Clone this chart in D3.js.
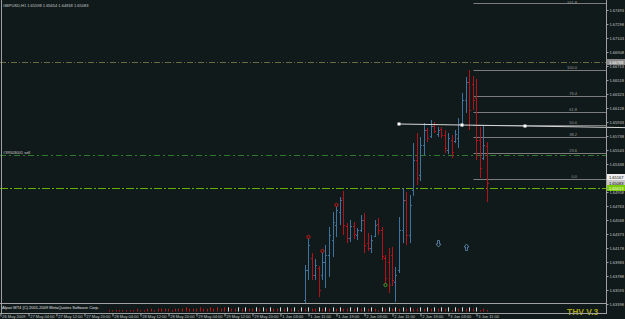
<!DOCTYPE html>
<html>
<head>
<meta charset="utf-8">
<script src="https://cdn.jsdelivr.net/npm/d3@7"></script>
<style>
  html, body { margin: 0; padding: 0; background: #101a1a; overflow: hidden; }
  svg { display: block; }
</style>
</head>
<body>
<script>
// GBPUSD H1 – MT4 screenshot, 1-3 Jun 2009

const symbol = "GBPUSD,H1";

// bar index 0 = 1 Jun 03:00, one bar per hour
const firstBar = 7; // 1 Jun 10:00
const opens  = [1.63453,1.63871,1.64038,1.63802,1.63899,1.63802,1.63983,1.64080,1.64289,1.64498,
                1.64679,1.64874,1.64484,1.64317,1.64484,1.64359,1.64428,1.64568,1.64247,1.64178,
                1.64345,1.64512,1.64428,1.64038,1.63983,1.64080,1.63704,1.63871,1.64428,1.64846,
                1.64359,1.64986,1.65403,1.65195,1.65612,1.65821,1.65738,1.65877,1.65766,1.65835,
                1.65752,1.65543,1.65682,1.65668,1.65710,1.65905,1.66239,1.66490,1.66462,1.66267,
                1.65682,1.65431,1.65598];
const highs  = [1.63941,1.64331,1.64108,1.64025,1.63927,1.64136,1.64220,1.64470,1.64679,1.64777,
                1.64888,1.64972,1.64526,1.64568,1.64540,1.64456,1.64637,1.64665,1.64387,1.64359,
                1.64568,1.64596,1.64470,1.64080,1.64178,1.64192,1.63913,1.64610,1.65013,1.64958,
                1.64916,1.65640,1.65780,1.65724,1.65919,1.65849,1.65961,1.65933,1.65863,1.65863,
                1.65821,1.65780,1.65752,1.65821,1.65988,1.66337,1.66560,1.66657,1.66573,1.66532,
                1.65863,1.65891,1.65654];
const lows   = [1.63314,1.63732,1.63732,1.63732,1.63495,1.63732,1.63621,1.63774,1.64052,1.64331,
                1.64498,1.64359,1.64247,1.64261,1.64303,1.64289,1.64401,1.64108,1.64136,1.64108,
                1.64331,1.64359,1.64011,1.63662,1.63551,1.63648,1.63426,1.63830,1.64247,1.64220,
                1.64247,1.64902,1.65055,1.65111,1.65473,1.65654,1.65710,1.65780,1.65724,1.65710,
                1.65501,1.65487,1.65431,1.65640,1.65571,1.65863,1.66058,1.65821,1.66100,1.65403,
                1.65153,1.65403,1.64818];
const closes = [1.63871,1.64220,1.63802,1.63941,1.63593,1.63983,1.64080,1.64359,1.64540,1.64707,
                1.64846,1.64498,1.64317,1.64484,1.64373,1.64428,1.64568,1.64220,1.64178,1.64289,
                1.64498,1.64428,1.64066,1.63760,1.63662,1.63732,1.63802,1.64428,1.64846,1.64359,
                1.64777,1.65403,1.65153,1.65612,1.65821,1.65710,1.65877,1.65807,1.65821,1.65752,
                1.65571,1.65710,1.65515,1.65766,1.65905,1.66239,1.66490,1.66100,1.66239,1.65682,
                1.65292,1.65612,1.65083];

// price scale labels
const priceTicks = [1.67493,1.67298,1.67103,1.66908,1.66713,1.66518,1.66323,1.66128,1.65933,1.65738,
                    1.65543,1.65348,1.65153,1.64958,1.64763,1.64568,1.64373,1.64178,1.63983,1.63788,
                    1.63593,1.63398];

// time scale labels
const timeLabels = ["26 May 2009","27 May 04:00","27 May 12:00","27 May 20:00","28 May 04:00",
                    "28 May 12:00","28 May 20:00","29 May 04:00","29 May 12:00","29 May 20:00",
                    "1 Jun 03:00","1 Jun 11:00","1 Jun 19:00","2 Jun 03:00","2 Jun 11:00",
                    "2 Jun 19:00","3 Jun 03:00","3 Jun 11:00"];
const timeLabelBars = [-80,-72,-64,-56,-48,-40,-32,-24,-16,-8,0,8,16,24,32,40,48,56];

// objects on chart
const fibLevels = [0, 23.6, 38.2, 50.0, 61.8, 76.4, 100.0, 161.8];
const fibHigh = 1.66657, fibLow = 1.65139, fibStartBar = 55;
const trendBars = [34, 70];
const trendPrices = [1.65905, 1.65877];
const hLineOlive = 1.66768;
const sellOrderPrice = 1.65473;
const sellOrderLabel = "#39503001 sell";
const hLineLime = 1.65013;
const whiteBoxPrice = 1.65167;
const markBars   = [8, 12, 16, 30];
const markPrices = [1.64331, 1.64136, 1.64777, 1.63662];
const markTypes  = ["sell", "sell", "sell", "close"];
const arrowBars   = [45, 53];
const arrowPrices = [1.64233, 1.64192];
const arrowDirs   = ["down", "up"];

// THV sub-window histogram
const thvStart = -49;
const thvValues = [-1,-1,-1,-1,-1,-1,-1,-1,-2,-1,-1,-2,-2,-1,-2,-2,-2,-2,-1,-2,-2,-2,-3,-2,-2,-2,-3,-2,-2,-3,-2,-3,-2,-3,
                   3,-2,-2,3,-2,3,-2,-2,3,-2, 3,-2,3,-2,-2,3,-2,3,-2,3, -1,3,-2,3,-2,-2,3,-2,3,-2,
                   3,-2,3,-2,-2,3,-2,3,-2,3, -2,3,-2,-1,3,-2,3,-2,3,-2, 3,-2,3,-2,-2,3,-2,3,-2,3,
                   -2,3,-2,3,-1,3,-2,3,-2,3, -2,3,-1,-2,-1];
const thvTitle = "THV V.3";
const copyright = "Alpari MT4 (C) 2001-2009 MetaQuotes Software Corp.";

/* layout */
const width = 625, height = 319;
const plotRight = 606, mainBottom = 303, subBottom = 313;
const font = "'Liberation Sans', Arial, sans-serif";
const sc = 0.5; // tiny MT4 text: draw at 8px and scale down to 4px
const upColor = "#41739f", downColor = "#b3121a";

const svg = d3.select("body").append("svg")
  .attr("width", width)
  .attr("height", height)
  .style("background", "#101a1a");

// small text helper (avoids browser minimum font size)
function tiny(parent, tx, ty, txt, color, anchor) {
  return parent.append("text")
    .attr("transform", `translate(${tx},${ty}) scale(${sc})`)
    .attr("text-anchor", anchor || "start")
    .attr("fill", color).attr("font-family", font).attr("font-size", 8)
    .text(txt);
}

const x = d3.scaleLinear().domain([-80, 99]).range([0, 626.5]);
const y = d3.scaleLinear()
  .domain([priceTicks[priceTicks.length - 1], priceTicks[0]])
  .range([304, 10]);
const px = i => Math.round(x(i)) + 0.5;

svg.append("clipPath").attr("id", "main")
  .append("rect").attr("x", 0).attr("y", 0).attr("width", plotRight).attr("height", mainBottom);
svg.append("clipPath").attr("id", "sub")
  .append("rect").attr("x", 0).attr("y", mainBottom + 1).attr("width", plotRight).attr("height", subBottom - mainBottom - 1);

const main = svg.append("g").attr("clip-path", "url(#main)");

// full-width horizontal lines
main.append("line")
  .attr("x1", 0).attr("x2", plotRight)
  .attr("y1", Math.round(y(hLineOlive)) + 0.5).attr("y2", Math.round(y(hLineOlive)) + 0.5)
  .attr("stroke", "#6a6a44").attr("stroke-dasharray", "6,2,1,2");
main.append("line")
  .attr("x1", 0).attr("x2", plotRight)
  .attr("y1", Math.round(y(sellOrderPrice)) + 0.5).attr("y2", Math.round(y(sellOrderPrice)) + 0.5)
  .attr("stroke", "#2e7a2e").attr("stroke-dasharray", "6,3,2,3");
tiny(main, 3, y(sellOrderPrice) - 1.5, sellOrderLabel, "#d0d0d0");
main.append("line")
  .attr("x1", 0).attr("x2", plotRight)
  .attr("y1", Math.round(y(hLineLime)) + 0.5).attr("y2", Math.round(y(hLineLime)) + 0.5)
  .attr("stroke", "#66b000").attr("stroke-dasharray", "8,2,2,2");

// fibonacci
const fib = main.append("g");
fibLevels.forEach(lv => {
  const p = fibLow + (fibHigh - fibLow) * lv / 100;
  const yy = Math.round(y(p)) + 0.5;
  fib.append("line")
    .attr("x1", px(fibStartBar)).attr("x2", plotRight)
    .attr("y1", yy).attr("y2", yy)
    .attr("stroke", "#7c7c7c");
  tiny(fib, 577, Math.max(yy - 1.2, 3.5), lv.toFixed(1), "#9a9a9a", "end");
});

// bars
main.append("g").selectAll("path")
  .data(opens.map((o, k) => ({ i: firstBar + k, o, h: highs[k], l: lows[k], c: closes[k] })))
  .join("path")
  .attr("d", d => {
    const xx = px(d.i);
    return `M${xx},${y(d.h)}V${y(d.l)}M${xx - 1.5},${Math.round(y(d.o)) + 0.5}H${xx}` +
           `M${xx},${Math.round(y(d.c)) + 0.5}H${xx + 1.5}`;
  })
  .attr("fill", "none")
  .attr("stroke", d => d.c >= d.o ? upColor : downColor)
  .attr("stroke-width", 1);

// order markers
main.append("g").selectAll("circle")
  .data(markBars.map((b, k) => ({ b, p: markPrices[k], t: markTypes[k] })))
  .join("circle")
  .attr("cx", d => px(d.b)).attr("cy", d => y(d.p)).attr("r", 1.6)
  .attr("fill", "#2a0c0c")
  .attr("stroke", d => d.t === "close" ? "#3aa02a" : "#c02020")
  .attr("stroke-width", 1);

// arrows
main.append("g").selectAll("path")
  .data(arrowBars.map((b, k) => ({ b, p: arrowPrices[k], d: arrowDirs[k] })))
  .join("path")
  .attr("transform", d => `translate(${px(d.b)},${y(d.p)})${d.d === "up" ? " scale(1,-1)" : ""}`)
  .attr("d", "M-1,-3.5H1V0H2.5L0,3L-2.5,0H-1Z")
  .attr("fill", "none").attr("stroke", "#5f8db5").attr("stroke-width", 0.8);

// trend line (ray)
const tSlope = (trendPrices[1] - trendPrices[0]) / (trendBars[1] - trendBars[0]);
const tEnd = x.invert(width);
svg.append("line")
  .attr("x1", x(trendBars[0])).attr("y1", y(trendPrices[0]))
  .attr("x2", width).attr("y2", y(trendPrices[0] + tSlope * (tEnd - trendBars[0])))
  .attr("stroke", "#d8d8d8").attr("stroke-width", 1);
const tMid = (trendBars[0] + trendBars[1]) / 2;
svg.append("g").selectAll("rect")
  .data([trendBars[0], tMid, trendBars[1]])
  .join("rect")
  .attr("x", d => x(d) - 1.5)
  .attr("y", d => y(trendPrices[0] + tSlope * (d - trendBars[0])) - 1.5)
  .attr("width", 3).attr("height", 3)
  .attr("fill", "#ffffff");

// sub-window
const sub = svg.append("g").attr("clip-path", "url(#sub)");
tiny(sub, 2, 309, copyright, "#e0e0e0");
sub.append("g").selectAll("line")
  .data(thvValues.map((v, k) => ({ i: thvStart + k, v })))
  .join("line")
  .attr("x1", d => px(d.i)).attr("x2", d => px(d.i))
  .attr("y1", 311.5).attr("y2", d => 311.5 - Math.abs(d.v) * 1.4)
  .attr("stroke", d => d.v > 0 ? "#d8d8d8" : "#c01818");
svg.append("text")
  .attr("x", 567).attr("y", 314.5)
  .attr("fill", "#a8a214").attr("font-family", font).attr("font-size", 8.5)
  .attr("font-weight", "bold")
  .text(thvTitle);

// frame
const frame = svg.append("g").attr("stroke", "#a0a0a0").attr("stroke-width", 1);
frame.append("line").attr("x1", 1.5).attr("x2", 1.5).attr("y1", 0).attr("y2", subBottom);
frame.append("line").attr("x1", plotRight + 0.5).attr("x2", plotRight + 0.5).attr("y1", 0).attr("y2", subBottom + 1);
frame.append("line").attr("x1", 0).attr("x2", plotRight).attr("y1", mainBottom + 0.5).attr("y2", mainBottom + 0.5);
frame.append("line").attr("x1", 0).attr("x2", plotRight).attr("y1", subBottom + 0.5).attr("y2", subBottom + 0.5);

// price axis
const yAxis = svg.append("g")
  .attr("transform", `translate(${plotRight + 0.5},0)`)
  .call(d3.axisRight(y).tickValues(priceTicks).tickFormat(d3.format(".5f")).tickSize(2));
yAxis.select(".domain").remove();
yAxis.selectAll("line").attr("stroke", "#a0a0a0");
yAxis.selectAll("text")
  .attr("x", null).attr("dy", null)
  .attr("transform", `translate(3,1.5) scale(${sc})`)
  .attr("fill", "#c4c4c4").attr("font-family", font).attr("font-size", 8);

// price boxes on the axis
const boxes = [
  { p: hLineOlive, fill: "#8a8a8a", text: "#ffffff" },
  { p: whiteBoxPrice, fill: "#f0f0f0", text: "#000000" },
  { p: closes[closes.length - 1], fill: "#c8c8c8", text: "#000000" },
  { p: hLineLime, fill: "#7acc00", text: "#ffffff" }
];
boxes.forEach(b => {
  const yy = Math.round(y(b.p));
  svg.append("rect").attr("x", plotRight + 1).attr("y", yy - 3).attr("width", 19).attr("height", 6).attr("fill", b.fill);
  tiny(svg, plotRight + 3, yy + 1.5, b.p.toFixed(5), b.text);
});

// time axis
const xAxis = svg.append("g")
  .attr("transform", `translate(0,${subBottom + 0.5})`)
  .call(d3.axisBottom(x).tickValues(timeLabelBars).tickFormat((d, i) => timeLabels[i]).tickSize(3).tickSizeOuter(0));
xAxis.select(".domain").remove();
xAxis.selectAll("line").attr("stroke", "#a0a0a0").attr("transform", "translate(0.5,0)");
xAxis.selectAll("text")
  .attr("text-anchor", "start").attr("y", null).attr("dy", null)
  .attr("transform", `translate(1.8,4.4) scale(${sc})`)
  .attr("fill", "#c4c4c4").attr("font-family", font).attr("font-size", 8);

// title
const last = opens.length - 1;
tiny(svg, 3, 6.5,
  `${symbol}  ${opens[last].toFixed(5)} ${highs[last].toFixed(5)} ${lows[last].toFixed(5)} ${closes[last].toFixed(5)}`,
  "#c8c8c8");
</script>
</body>
</html>
